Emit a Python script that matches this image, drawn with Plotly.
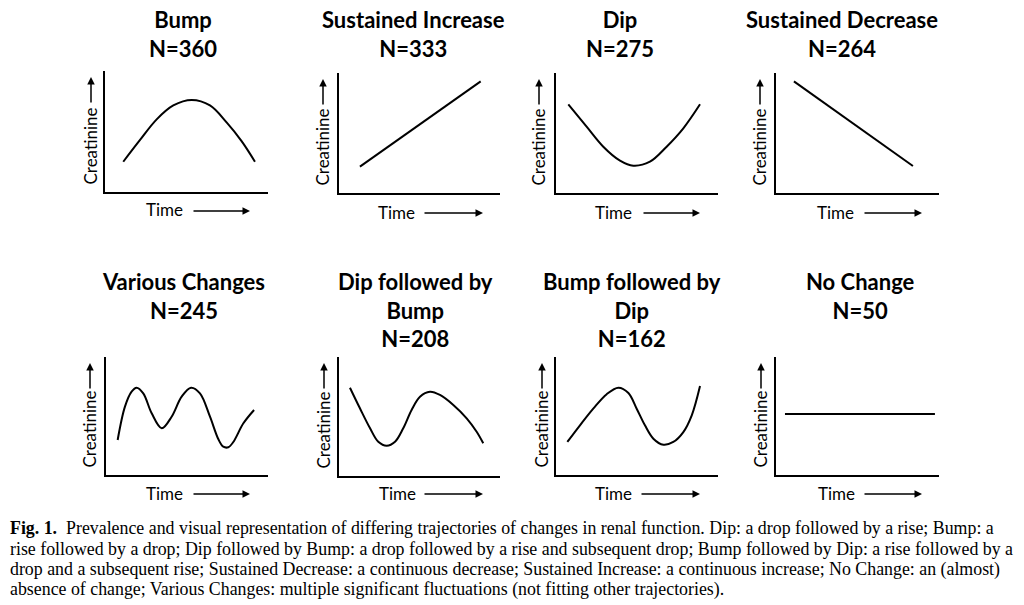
import plotly.graph_objects as go

W, H = 1024, 605

# ---------------- data ----------------
titles = ["Bump", "Sustained Increase", "Dip", "Sustained Decrease",
          "Various Changes", "Dip followed by<br>Bump", "Bump followed by<br>Dip", "No Change"]
counts = [360, 333, 275, 264, 245, 208, 162, 50]

# schematic trajectories (time 0-10, creatinine 0-10)
bump_t = [1.12, 2.15, 3.17, 4.19, 5.32, 6.44, 7.46, 8.38, 9.2]
bump_c = [2.5, 4.3, 6.0, 7.15, 7.6, 7.15, 5.75, 4.2, 2.5]
inc_t = [1.3, 8.8]
inc_c = [2.2, 9.3]
dip_t = [0.76, 1.89, 2.92, 3.95, 4.77, 5.80, 6.83, 7.86, 8.89]
dip_c = [7.39, 5.53, 3.86, 2.70, 2.28, 2.61, 3.86, 5.39, 7.39]
dec_t = [1.1, 8.4]
dec_c = [9.3, 2.25]
var_t = [0.72, 1.17, 1.58, 1.89, 2.30, 2.82, 3.44, 4.05, 4.67, 5.25, 5.80, 6.42, 6.93, 7.24, 7.55, 7.86, 8.48, 9.14]
var_c = [2.97, 5.79, 7.06, 7.40, 6.92, 5.23, 3.96, 4.94, 6.64, 7.40, 6.92, 4.94, 3.05, 2.40, 2.35, 2.80, 4.38, 5.51]
dipbump_t = [0.68, 1.30, 1.93, 2.44, 2.96, 3.48, 3.99, 4.51, 5.03, 5.65, 6.27, 7.10, 7.93, 8.55, 8.96]
dipbump_c = [7.42, 5.69, 4.01, 2.88, 2.55, 2.88, 4.01, 5.55, 6.66, 7.08, 6.81, 5.97, 4.85, 3.72, 2.75]
bumpdip_t = [0.70, 1.48, 2.30, 3.13, 3.85, 4.47, 4.98, 5.49, 6.01, 6.63, 7.24, 7.86, 8.38, 8.89]
bumpdip_c = [2.80, 4.21, 5.62, 6.85, 7.40, 6.95, 5.62, 4.21, 3.08, 2.57, 2.80, 3.64, 5.06, 7.54]
flat_t = [0.55, 9.75]
flat_c = [5.17, 5.17]

series_t = [bump_t, inc_t, dip_t, dec_t, var_t, dipbump_t, bumpdip_t, flat_t]
series_c = [bump_c, inc_c, dip_c, dec_c, var_c, dipbump_c, bumpdip_c, flat_c]

x_label = "Time"
y_label = "Creatinine"

caption_lines = [
    "<b>Fig. 1.</b>  Prevalence and visual representation of differing trajectories of changes in renal function. Dip: a drop followed by a rise; Bump: a",
    "rise followed by a drop; Dip followed by Bump: a drop followed by a rise and subsequent drop; Bump followed by Dip: a rise followed by a",
    "drop and a subsequent rise; Sustained Decrease: a continuous decrease; Sustained Increase: a continuous increase; No Change: an (almost)",
    "absence of change; Various Changes: multiple significant fluctuations (not fitting other trajectories).",
]

# ---------------- layout (pixels) ----------------
# axis box: left, right, top, bottom
boxes = [(105, 268, 71, 192), (339, 500, 73, 193), (556, 718, 73, 193), (776, 939, 73, 193),
         (106, 268, 357, 475), (339, 500, 357, 476), (556, 718, 357, 475), (776, 939, 357, 475)]
title_cx = [183, 413, 620, 842, 183, 415, 632, 860]
title_top = [4, 4, 4, 4, 266, 266, 266, 266]
creat_x = [90, 322, 538, 759, 89, 323, 541, 760]
time_cx = [164, 396, 613, 835, 164, 397, 613, 836]
time_y = [210, 212, 212, 212, 493, 493, 493, 493]
tarrow = [(192, 250), (423, 483), (642, 700), (863, 922), (192, 250), (423, 483), (640, 700), (863, 922)]

def px(x):
    return x / W

def py(y):
    return 1 - y / H

fig = go.Figure()
annotations = []
lab_font = dict(family="Lato", size=17, color="black")
title_font = dict(family="Lato", size=22, color="black")

for i in range(8):
    l, r, t, b = boxes[i]
    xa = "x" if i == 0 else f"x{i+1}"
    ya = "y" if i == 0 else f"y{i+1}"
    fig.add_trace(go.Scatter(x=series_t[i], y=series_c[i], mode="lines",
                             line=dict(color="black", width=2, shape="spline", smoothing=1.0),
                             xaxis=xa, yaxis=ya, showlegend=False, hoverinfo="skip"))
    axkw = dict(range=[0, 10], showline=True, linecolor="black", linewidth=2,
                showgrid=False, zeroline=False, showticklabels=False, ticks="", fixedrange=True)
    fig.layout[("xaxis" if i == 0 else f"xaxis{i+1}")] = dict(
        domain=[px(l), px(r)], anchor=ya, **axkw)
    fig.layout[("yaxis" if i == 0 else f"yaxis{i+1}")] = dict(
        domain=[py(b), py(t)], anchor=xa, **axkw)

    # title
    annotations.append(dict(text=f"<b>{titles[i]}<br>N={counts[i]}</b>", x=px(title_cx[i]), y=py(title_top[i]),
                            xref="paper", yref="paper", xanchor="center", yanchor="top",
                            showarrow=False, font=title_font))
    # y label rotated
    annotations.append(dict(text=y_label, x=px(creat_x[i]), y=py(b - 5), xref="paper", yref="paper",
                            xanchor="center", yanchor="bottom", textangle=-90, showarrow=False, font=lab_font))
    # y arrow
    annotations.append(dict(text="", x=px(creat_x[i] + 1), y=py(t + 6), xref="paper", yref="paper",
                            ax=0, ay=27, showarrow=True, arrowhead=2, arrowsize=1, arrowwidth=1.5,
                            arrowcolor="black"))
    # x label
    annotations.append(dict(text=x_label, x=px(time_cx[i]), y=py(time_y[i]), xref="paper", yref="paper",
                            xanchor="center", yanchor="middle", showarrow=False, font=lab_font))
    a0, a1 = tarrow[i]
    annotations.append(dict(text="", x=px(a1), y=py(time_y[i] + 1), xref="paper", yref="paper",
                            ax=-(a1 - a0), ay=0, showarrow=True, arrowhead=2, arrowsize=1, arrowwidth=1.5,
                            arrowcolor="black"))

cap_y = [528, 549, 569, 589]
for j, line in enumerate(caption_lines):
    annotations.append(dict(text=line, x=px(8), y=py(cap_y[j]), xref="paper", yref="paper",
                            xanchor="left", yanchor="middle", showarrow=False,
                            font=dict(family="Liberation Serif", size=17.85, color="black")))

fig.update_layout(width=W, height=H, margin=dict(l=0, r=0, t=0, b=0),
                  paper_bgcolor="white", plot_bgcolor="white", annotations=annotations)

fig.write_html("out.html", config={"displayModeBar": False},
               post_script="document.body.style.margin='0px';document.body.style.overflow='hidden';")
